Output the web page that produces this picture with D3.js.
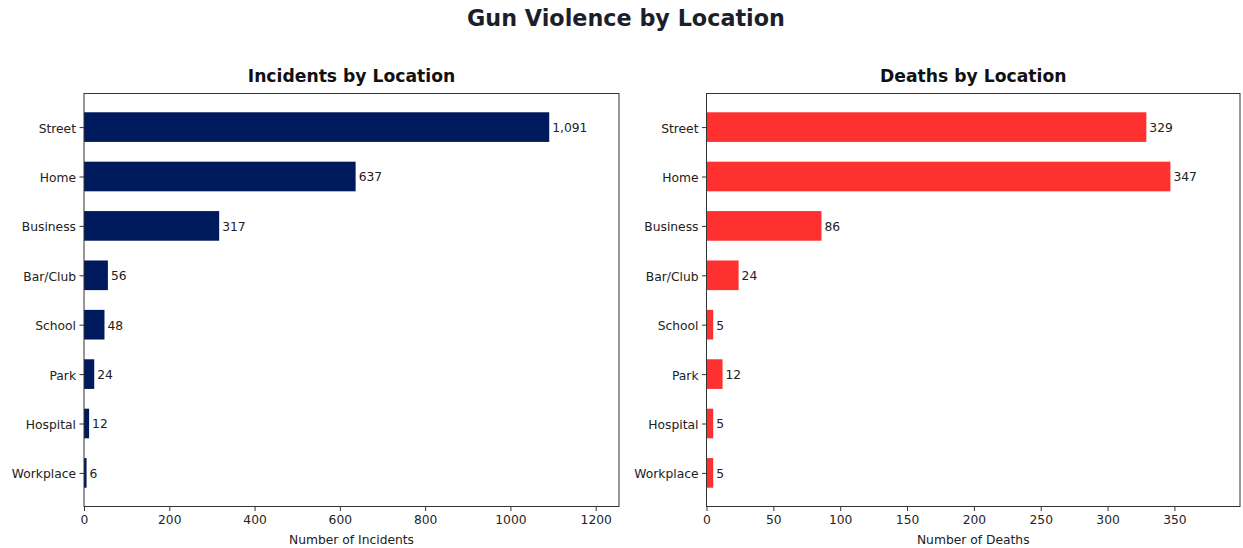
<!DOCTYPE html>
<html><head><meta charset="utf-8">
<script src="https://cdn.jsdelivr.net/npm/d3@7"></script>
<style>body{margin:0;background:#fff;} text{font-family:"DejaVu Sans",sans-serif;}</style>
</head><body><svg id="c" width="1243" height="548"></svg>
<script>
const categories = ["Street","Home","Business","Bar/Club","School","Park","Hospital","Workplace"];
const incidents = [1091,637,317,56,48,24,12,6];
const deaths = [329,347,86,24,5,12,5,5];
const incidentTicks = [0,200,400,600,800,1000,1200];
const deathTicks = [0,50,100,150,200,250,300,350];

const svg = d3.select("#c");
svg.append("text").attr("x", 626).attr("y", 18).attr("dy","0.35em").attr("text-anchor","middle")
  .attr("font-size", 22.3).attr("font-weight","bold").attr("fill","#1c1f2b").text("Gun Violence by Location");

function panel(x0, x1, values, ticks, color, title, xlabel) {
  const top = 93.5, bottom = 506.5;
  const x = d3.scaleLinear().domain([0, d3.max(values)*1.15]).range([x0, x1]);
  const y = d3.scaleLinear().domain([-0.68, categories.length - 1 + 0.68]).range([top, bottom]);
  const g = svg.append("g");
  const bh = (y(0.3) - y(-0.3));
  g.selectAll("rect").data(values).join("rect")
    .attr("x", x(0)).attr("y", (d,i)=>y(i)-bh/2).attr("width", d=>x(d)-x(0)).attr("height", bh)
    .attr("fill", color);
  g.selectAll("text.v").data(values).join("text").attr("class","v")
    .attr("x", d=>x(d)+3).attr("y",(d,i)=>y(i)).attr("dy","0.4em")
    .attr("font-size",12.3).attr("fill","#222").text(d=>d3.format(",")(d));
  g.append("rect").attr("x",x0).attr("y",top).attr("width",x1-x0).attr("height",bottom-top)
    .attr("fill","none").attr("stroke","#333").attr("stroke-width",1);
  const xa = d3.axisBottom(x).tickValues(ticks).tickSize(4.5).tickPadding(4.5).tickFormat(d3.format("d"));
  const gx = g.append("g").attr("transform",`translate(0,${bottom})`).call(xa);
  gx.select(".domain").remove();
  gx.selectAll("line").attr("stroke","#333");
  gx.selectAll("text").attr("font-size",12.3).attr("fill","#222").attr("font-family","DejaVu Sans");
  const ya = d3.axisLeft(y).tickValues(d3.range(categories.length)).tickSize(4.5).tickPadding(3.5).tickFormat(i=>categories[i]);
  const gy = g.append("g").attr("transform",`translate(${x0},0)`).call(ya);
  gy.select(".domain").remove();
  gy.selectAll("line").attr("stroke","#333");
  gy.selectAll("text").attr("font-size",12.3).attr("fill","#222").attr("font-family","DejaVu Sans").attr("dy","0.4em");
  g.append("text").attr("x",(x0+x1)/2).attr("y",76).attr("dy","0.35em").attr("text-anchor","middle")
    .attr("font-size",17.2).attr("font-weight","bold").attr("fill","#111").text(title);
  g.append("text").attr("x",(x0+x1)/2).attr("y",539.5).attr("dy","0.35em").attr("text-anchor","middle")
    .attr("font-size",12.3).attr("fill","#222").text(xlabel);
}
panel(84, 619, incidents, incidentTicks, "#001a5e", "Incidents by Location", "Number of Incidents");
panel(706.5, 1240, deaths, deathTicks, "#ff3030", "Deaths by Location", "Number of Deaths");
</script></body></html>
